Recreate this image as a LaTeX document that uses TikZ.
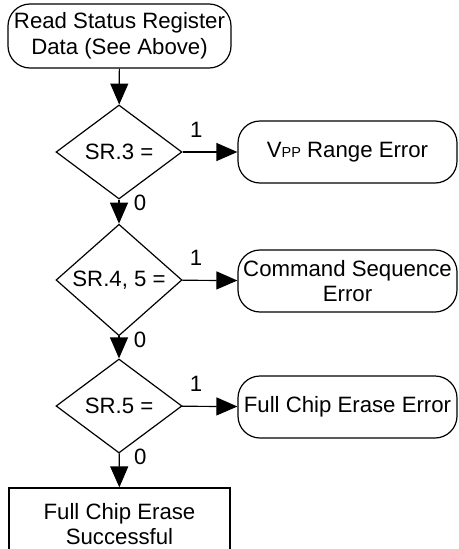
\documentclass[tikz,border=0pt]{standalone}
\usepackage{fontspec}
\setmainfont{Liberation Sans}
\usetikzlibrary{shapes.geometric,arrows.meta}

\begin{document}
\begin{tikzpicture}[x=1pt, y=-1pt, line width=1.2pt, font=\fontsize{22.2}{25.5}\selectfont,
    term/.style = {draw, rounded corners=22pt, minimum width=219pt, minimum height=62pt, align=center},
    decision/.style = {draw, diamond, minimum width=126pt, minimum height=94pt, inner sep=0pt},
    result/.style = {draw, minimum width=221pt, minimum height=72pt, align=center},
    flow/.style = {-{Triangle[length=21pt, width=18pt]}}]

            \useasboundingbox (0,0) rectangle (458,549);

            % Nodes
            \node[term, minimum width=223pt, minimum height=64pt] (read) at (119.5,36) {Read Status Register\\Data (See Above)};
            \node[decision] (sr3) at (119,152) {SR.3 =};
            \node[decision] (sr45) at (119,280) {SR.4, 5 =};
            \node[decision] (sr5) at (119,406) {SR.5 =};
            \node[term] (vpp) at (347.5,152) {V{\fontsize{14.5}{14.5}\selectfont PP} Range Error};
            \node[term] (cmd) at (347.5,281) {Command Sequence\\Error};
            \node[term] (chip) at (347.5,407) {Full Chip Erase Error};
            \node[result] (done) at (119.5,524) {Full Chip Erase\\Successful};

            % Edges
            \draw[flow] (read) -- (sr3);
            \draw[flow] (sr3) -- node[pos=0.25, above=11pt] {1} (vpp);
            \draw[flow] (sr3) -- node[pos=0.14, right=11pt] {0} (sr45);
            \draw[flow] (sr45) -- node[pos=0.25, above=11pt] {1} (cmd);
            \draw[flow] (sr45) -- node[pos=0.14, right=11pt] {0} (sr5);
            \draw[flow] (sr5) -- node[pos=0.25, above=11pt] {1} (chip);
            \draw[flow] (sr5) -- node[pos=0.09, right=11pt] {0} (done);
        \end{tikzpicture}
\end{document}
